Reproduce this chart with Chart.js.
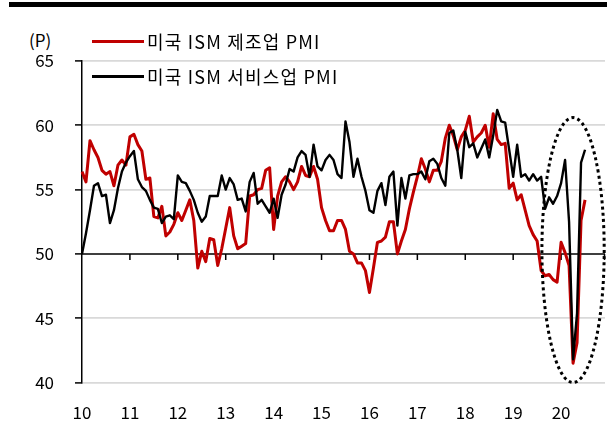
<!DOCTYPE html>
<html>
<head>
<meta charset="utf-8">
<script src="https://cdn.jsdelivr.net/npm/chart.js@4"></script>
<style>
  body { margin: 0; background: #fff; }
  #wrap { position: relative; width: 607px; height: 432px; font-family: "Noto Sans CJK KR", "Noto Sans", sans-serif; color: #000; }
  #topbar { position: absolute; left: 9px; top: 2px; width: 598px; height: 5px; background: #000; }
  #unit { position: absolute; left: 29px; top: 30px; font-size: 17px; line-height: 20px; }
  .leg { position: absolute; left: 92px; display: flex; align-items: center; font-size: 18px; line-height: 20px; letter-spacing: 1.2px; white-space: nowrap; z-index: 2; }
  .leg span { display: inline-block; width: 52px; height: 3px; margin-right: 3px; }
  canvas { position: absolute; left: 0; top: 0; }
</style>
</head>
<body>
<div id="wrap">
  <div id="topbar"></div>
  <div id="unit">(P)</div>
  <div class="leg" style="top:31px"><span style="background:#c00000"></span>미국 ISM 제조업 PMI</div>
  <div class="leg" style="top:66px"><span style="background:#000"></span>미국 ISM 서비스업 PMI</div>
  <canvas id="myChart" width="607" height="432"></canvas>
</div>
<script>
// monthly, Jan 2010 .. Jul 2020
const years = ['10', '11', '12', '13', '14', '15', '16', '17', '18', '19', '20']
const manufacturing = [
  56.4, 55.6, 58.8, 58.1, 57.5, 56.5, 56.2, 56.4, 55.3, 56.9, 57.3, 56.9,
  59.1, 59.3, 58.5, 58.0, 55.8, 55.9, 52.9, 52.8, 53.7, 51.4, 51.7, 52.3,
  53.2, 52.6, 53.4, 54.2, 52.6, 48.9, 50.2, 49.4, 51.2, 51.1, 49.1, 50.4,
  52.0, 53.6, 51.4, 50.4, 50.6, 50.8, 54.5, 54.6, 55.0, 55.1, 56.5, 56.7,
  51.9, 54.5, 55.6, 56.0, 55.6, 55.0, 55.6, 56.8, 56.1, 56.0, 56.8, 55.8,
  53.6, 52.6, 51.8, 51.8, 52.6, 52.6, 51.9, 50.2, 50.0, 49.3, 49.3, 48.7,
  47.0, 48.9, 50.9, 51.0, 51.3, 52.5, 52.5, 50.0, 51.0, 51.9, 53.5, 54.8,
  56.0, 57.4, 56.6, 55.6, 56.5, 56.5, 57.2, 59.0, 60.0, 59.2, 58.1, 59.1,
  59.6, 60.7, 58.7, 59.1, 59.4, 60.0, 58.3, 60.9, 58.9, 58.5, 58.6, 55.1,
  55.5, 54.2, 54.6, 53.4, 52.2, 51.5, 51.0, 48.7, 48.3, 48.4, 48.0, 47.8,
  50.9, 50.1, 49.1, 41.5, 43.1, 52.6, 54.2
]
const services = [
  50.0, 51.6, 53.4, 55.3, 55.5, 54.5, 54.6, 52.4, 53.4, 55.1, 56.4, 57.1,
  57.6, 58.0, 55.8, 55.2, 54.9, 54.2, 53.6, 53.5, 52.4, 52.9, 53.0, 52.7,
  56.1, 55.6, 55.5, 54.9, 54.2, 53.2, 52.5, 52.9, 54.5, 54.5, 54.5, 56.1,
  55.0, 55.9, 55.4, 54.2, 54.3, 53.3, 55.6, 56.3, 53.9, 54.2, 53.7, 53.2,
  54.3, 52.8, 54.6, 55.4, 56.6, 56.4, 57.5, 58.0, 57.7, 56.0, 58.5, 56.8,
  56.5, 57.3, 57.7, 57.3, 56.2, 55.9, 60.3, 58.7, 56.0, 57.4, 56.0, 54.9,
  53.4, 53.2, 54.9, 55.5, 53.8, 56.0, 56.4, 52.2, 55.9, 54.3, 56.1, 56.2,
  56.2, 56.4, 55.8, 57.2, 57.4, 57.0, 55.9, 55.3, 59.4, 59.6, 58.1, 55.9,
  59.5, 58.3, 58.6, 57.5, 58.2, 58.9, 57.5, 59.2, 61.2, 60.3, 60.2, 58.1,
  56.0, 58.5, 56.0, 56.2, 55.7, 56.2, 55.7, 56.0, 53.5, 54.4, 53.9, 54.5,
  55.5, 57.3, 52.5, 41.8, 45.4, 57.1, 58.1
]
const yTicks = [40, 45, 50, 55, 60, 65]
const axisValue = 50
// dotted ring around 2020 (month index, half width in months, value range)
const ring = { month: 123, halfMonths: 7.8, top: 60.6, bottom: 40 }

// one label per month up to Dec 2020, year text only on January
let monthLabels = []
years.forEach(yy => {
  for (let m = 0; m < 12; m++) monthLabels.push(m == 0 ? yy : '')
})

const tickFont = { family: '"Noto Sans CJK KR", "Noto Sans", sans-serif', size: 17 }

const decor = {
  id: 'decor',
  beforeDatasetsDraw(chart) {
    const { ctx, chartArea } = chart
    const x = chart.scales.x, y = chart.scales.y
    const y50 = y.getPixelForValue(axisValue)
    ctx.save()
    ctx.strokeStyle = '#000'
    ctx.lineWidth = 1.5
    ctx.beginPath()
    ctx.moveTo(chartArea.left, y50)
    ctx.lineTo(chartArea.right, y50)
    for (let i = 12; i < monthLabels.length; i += 12) {
      const px = x.getPixelForValue(i)
      ctx.moveTo(px, y50)
      ctx.lineTo(px, y50 + 6)
    }
    ctx.moveTo(chartArea.right - 0.5, y50)
    ctx.lineTo(chartArea.right - 0.5, y50 + 6)
    ctx.stroke()
    ctx.restore()
  },
  afterDatasetsDraw(chart) {
    const ctx = chart.ctx
    const x = chart.scales.x, y = chart.scales.y
    const cx = x.getPixelForValue(ring.month)
    const rx = x.getPixelForValue(ring.month + ring.halfMonths) - cx
    const top = y.getPixelForValue(ring.top), bottom = y.getPixelForValue(ring.bottom)
    ctx.save()
    ctx.strokeStyle = '#000'
    ctx.lineWidth = 3
    ctx.setLineDash([3, 3.2])
    ctx.beginPath()
    ctx.ellipse(cx, (top + bottom) / 2, rx, (bottom - top) / 2, 0, 0, Math.PI * 2)
    ctx.stroke()
    ctx.restore()
  }
}

new Chart('myChart', {
  type: 'line',
  data: {
    labels: monthLabels,
    datasets: [
      { label: '미국 ISM 제조업 PMI', data: manufacturing, borderColor: '#c00000', borderWidth: 3, order: 1 },
      { label: '미국 ISM 서비스업 PMI', data: services, borderColor: '#000', borderWidth: 2.4, order: 0 }
    ]
  },
  options: {
    responsive: false,
    animation: false,
    layout: { padding: { top: 61, right: 2, left: 0, bottom: 0 } },
    elements: { point: { radius: 0 }, line: { tension: 0, borderJoinStyle: 'round' } },
    plugins: { legend: { display: false }, tooltip: { enabled: false } },
    scales: {
      x: {
        type: 'category',
        grid: { display: false, drawTicks: false },
        border: { display: false },
        ticks: { autoSkip: false, maxRotation: 0, padding: 20, color: '#000', font: tickFont,
          callback: (v, i) => monthLabels[i] },
        afterFit: s => { s.height = 49.5; s.paddingLeft = 0; s.paddingRight = 0 }
      },
      y: {
        min: yTicks[0], max: yTicks[yTicks.length - 1],
        afterBuildTicks: s => { s.ticks = yTicks.map(v => ({ value: v })) },
        ticks: { padding: 21, color: '#000', font: tickFont },
        border: { display: true, color: '#000', width: 1.5 },
        grid: {
          color: c => c.tick && c.tick.value == axisValue ? 'rgba(0,0,0,0)' : '#d9d9d9',
          lineWidth: 1.8,
          tickColor: '#000', tickLength: 7, tickWidth: 1.5
        },
        afterFit: s => { s.width = 82 }
      }
    }
  },
  plugins: [decor]
})
</script>
</body>
</html>
